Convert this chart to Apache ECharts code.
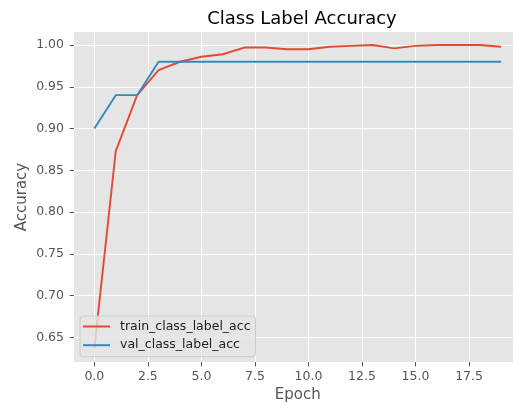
<!DOCTYPE html>
<html><head><meta charset="utf-8">
<script src="https://cdn.jsdelivr.net/npm/echarts@6/dist/echarts.min.js"></script>
<style>html,body{margin:0;padding:0;background:#fff}#c{width:513px;height:404px}</style>
</head><body><div id="c"></div>
<script>
var epochs = [0,1,2,3,4,5,6,7,8,9,10,11,12,13,14,15,16,17,18,19];
var trainAcc = [0.637,0.873,0.940,0.970,0.980,0.986,0.989,0.997,0.997,0.995,0.995,0.998,0.999,1.000,0.996,0.999,1.000,1.000,1.000,0.998];
var valAcc = [0.900,0.940,0.940,0.980,0.980,0.980,0.980,0.980,0.980,0.980,0.980,0.980,0.980,0.980,0.980,0.980,0.980,0.980,0.980,0.980];
var xTicks = [0,2.5,5,7.5,10,12.5,15,17.5];
var yTicks = [0.65,0.70,0.75,0.80,0.85,0.90,0.95,1.00];

function pairs(xs, ys){ return xs.map(function(x,i){return [x, ys[i]];}); }
var font = 'DejaVu Sans';
var chart = echarts.init(document.getElementById('c'));
chart.setOption({
  backgroundColor: '#ffffff',
  animation: false,
  title: {text: 'Class Label Accuracy', left: 297, top: 5, textAlign: 'center',
    textStyle: {fontFamily: font, fontSize: 18, fontWeight: 'normal', color: '#000'}},
  grid: {left: 74, top: 32, width: 447.5, height: 330, backgroundColor: '#E5E5E5', show: true, borderWidth: 0,
    outerBoundsMode: 'none', containLabel: false},
  legend: {
    orient: 'vertical', left: 80, top: 316,
    backgroundColor: 'rgba(229,229,229,0.8)', borderColor: '#cccccc', borderWidth: 1, borderRadius: 3,
    padding: [3, 5, 4, 3], itemGap: 3.7,
    itemWidth: 27, itemHeight: 2, icon: 'rect',
    textStyle: {fontFamily: font, fontSize: 12.5, lineHeight: 15, color: '#222', padding: [0,0,0,5]},
    data: ['train_class_label_acc', 'val_class_label_acc']
  },
  xAxis: {
    type: 'value', min: -0.95, max: 19.95,
    name: 'Epoch', nameLocation: 'middle', nameGap: 26, nameMoveOverlap: false,
    nameTextStyle: {fontFamily: font, fontSize: 15, color: '#555555'},
    axisLine: {show: true, onZero: false, lineStyle: {color: 'rgba(0,0,0,0)'}},
    axisTick: {show: true, length: 4.4, lineStyle: {color: '#555555', width: 1}, customValues: xTicks},
    axisLabel: {fontFamily: font, fontSize: 12.5, color: '#555555', margin: 8, customValues: xTicks,
      formatter: function(v){return v.toFixed(1);}},
    splitLine: {show: true, lineStyle: {color: '#ffffff', width: 1}}
  },
  yAxis: {
    type: 'value', min: 0.6206, max: 1.0156,
    name: 'Accuracy', nameLocation: 'middle', nameGap: 44.5, nameRotate: 90, nameMoveOverlap: false,
    nameTextStyle: {fontFamily: font, fontSize: 15, color: '#555555'},
    axisLine: {show: true, onZero: false, lineStyle: {color: 'rgba(0,0,0,0)'}},
    axisTick: {show: true, length: 4.4, lineStyle: {color: '#555555', width: 1}, customValues: yTicks},
    axisLabel: {fontFamily: font, fontSize: 12.5, color: '#555555', margin: 10, customValues: yTicks,
      formatter: function(v){return v.toFixed(2);}},
    splitLine: {show: true, lineStyle: {color: '#ffffff', width: 1}}
  },
  series: [
    {name: 'train_class_label_acc', type: 'line', data: pairs(epochs, trainAcc), symbol: 'none',
      lineStyle: {color: '#E24A33', width: 1.9}, itemStyle: {color: '#E24A33'}},
    {name: 'val_class_label_acc', type: 'line', data: pairs(epochs, valAcc), symbol: 'none',
      lineStyle: {color: '#348ABD', width: 1.9}, itemStyle: {color: '#348ABD'}}
  ]
});
</script></body></html>
